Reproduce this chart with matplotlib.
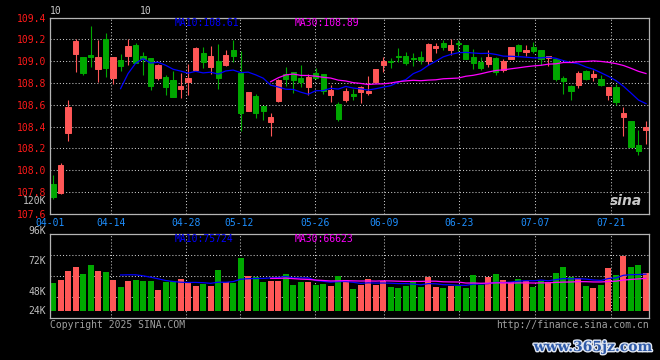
import numpy as np
import pandas as pd
import matplotlib
matplotlib.use("Agg")
import matplotlib.pyplot as plt
import matplotlib.patheffects as pe

# ---------------- data ----------------
opens = [107.877, 107.788, 108.346, 109.069, 109.038, 109.057, 108.932, 109.203, 108.846, 109.008,
         109.051, 109.151, 109.048, 109.029, 108.846, 108.852, 108.825, 108.746, 108.810, 108.920,
         109.078, 108.950, 108.999, 108.962, 109.102, 108.889, 108.545, 108.682, 108.590, 108.447,
         108.636, 108.880, 108.900, 108.849, 108.767, 108.892, 108.886, 108.691, 108.609, 108.645,
         108.700, 108.718, 108.712, 108.810, 108.968, 109.005, 109.048, 109.048, 109.030, 109.038,
         108.999, 109.124, 109.170, 109.100, 109.163, 109.148, 109.038, 108.996, 108.977, 109.026,
         108.916, 109.023, 109.148, 109.081, 109.130, 109.102, 109.026, 109.017, 108.846, 108.770,
         108.785, 108.913, 108.855, 108.834, 108.691, 108.761, 108.490, 108.453, 108.234, 108.374]
highs = [107.956, 108.069, 108.645, 109.203, 109.040, 109.325, 109.194, 109.258, 109.040, 109.069,
         109.200, 109.170, 109.084, 109.030, 108.970, 108.871, 108.913, 108.895, 108.974, 109.130,
         109.127, 109.136, 109.157, 109.100, 109.194, 109.090, 108.720, 108.700, 108.590, 108.526,
         108.840, 108.950, 108.900, 108.965, 108.886, 108.938, 108.886, 108.782, 108.627, 108.752,
         108.746, 108.773, 108.865, 108.930, 109.038, 109.030, 109.120, 109.081, 109.078, 109.093,
         109.170, 109.170, 109.197, 109.200, 109.194, 109.150, 109.112, 109.038, 109.100, 109.038,
         109.017, 109.130, 109.157, 109.148, 109.176, 109.102, 109.048, 109.017, 108.865, 108.785,
         108.907, 108.922, 108.920, 108.874, 108.761, 108.791, 108.581, 108.453, 108.371, 108.450]
lows = [107.733, 107.779, 108.273, 108.904, 108.877, 108.947, 108.810, 108.855, 108.795, 108.913,
        108.962, 108.980, 108.877, 108.740, 108.831, 108.688, 108.670, 108.663, 108.691, 108.920,
        108.938, 108.883, 108.749, 108.960, 108.996, 108.359, 108.540, 108.480, 108.462, 108.319,
        108.627, 108.776, 108.712, 108.767, 108.694, 108.834, 108.703, 108.627, 108.453, 108.630,
        108.645, 108.618, 108.691, 108.810, 108.904, 108.938, 108.996, 108.965, 108.959, 108.974,
        108.965, 109.078, 109.100, 109.054, 109.096, 109.020, 108.929, 108.920, 108.947, 108.877,
        108.904, 109.020, 109.048, 109.050, 109.078, 108.965, 108.956, 108.822, 108.703, 108.648,
        108.758, 108.828, 108.822, 108.776, 108.645, 108.600, 108.319, 108.218, 108.136, 108.237]
closes = [107.758, 108.051, 108.581, 109.185, 108.895, 109.038, 109.038, 108.941, 109.038, 108.959,
          109.139, 108.983, 109.020, 108.776, 108.968, 108.764, 108.673, 108.773, 108.849, 109.124,
          108.996, 109.048, 108.846, 109.060, 109.051, 108.529, 108.718, 108.526, 108.545, 108.484,
          108.831, 108.840, 108.828, 108.810, 108.859, 108.849, 108.730, 108.740, 108.471, 108.727,
          108.682, 108.764, 108.724, 108.929, 109.002, 108.990, 109.040, 108.983, 109.017, 109.011,
          109.157, 109.139, 109.130, 109.148, 109.157, 109.023, 108.983, 108.938, 109.038, 108.904,
          108.999, 109.130, 109.093, 109.102, 109.096, 109.017, 109.048, 108.834, 108.822, 108.730,
          108.889, 108.837, 108.883, 108.785, 108.761, 108.630, 108.526, 108.218, 108.179, 108.401]
volumes = [57456, 63612, 82080, 90288, 75924, 94392, 82080, 80028, 63612, 49248,
           61560, 63612, 61560, 61560, 43092, 59508, 61560, 65664, 57456, 51300,
           55404, 51300, 84132, 59508, 57456, 108756, 71820, 69768, 59508, 61560,
           61560, 75924, 53352, 59508, 59508, 53352, 55404, 51300, 71820, 63612,
           45144, 53352, 65664, 53352, 61560, 49248, 47196, 51300, 61560, 49248,
           69768, 49248, 47196, 51300, 51300, 47196, 73872, 53352, 69768, 75924,
           63612, 59508, 65664, 61560, 49248, 61560, 59508, 77976, 90288, 69768,
           67716, 51300, 47196, 53352, 88236, 73872, 112860, 90288, 94392, 77976]

date_tick_labels = ["04-01", "04-14", "04-28", "05-12", "05-26", "06-09", "06-23", "07-07", "07-21"]
date_tick_index = [0, 8, 18, 25, 35, 44, 54, 64, 74]
price_ticks = [107.6, 107.8, 108.0, 108.2, 108.4, 108.6, 108.8, 109.0, 109.2, 109.4]
vol_tick_labels = ["120K", "96K", "72K", "48K", "24K"]
price_legend = ["MA10:108.61", "MA30:108.89"]
vol_legend = ["MA10:75724", "MA30:66623"]

# ---------------- style ----------------
W, H = 660, 360
BG = "black"
RED = "#ff5757"
GREEN = "#00a800"
BLUE = "#0000ff"
MAG = "#ff00ff"
GRID = "#c8c8c8"
BORDER = "#b4b4b4"
MONO = "DejaVu Sans Mono"
FS = 7

df = pd.DataFrame({"open": opens, "high": highs, "low": lows, "close": closes, "vol": volumes})
n = len(df)
x = np.arange(n)
df["ma10"] = df["close"].rolling(10).mean()
df["ma30"] = df["close"].rolling(30).mean()
df["vma10"] = df["vol"].rolling(10).mean()
df["vma30"] = df["vol"].rolling(30).mean()
up = df["close"] >= df["open"]
colors = np.where(up, RED, GREEN)

fig = plt.figure(figsize=(W / 100, H / 100), dpi=100, facecolor=BG)

def px_axes(left, top, right, bottom):
    return fig.add_axes([left / W, 1 - bottom / H, (right - left) / W, (bottom - top) / H])

ax = px_axes(50, 17.5, 649, 214)
axv = px_axes(50, 234.3, 649, 318)
XL, XR = -0.4, n - 1 + 0.4
grid_x = [XL + i / (n - 1) * (XR - XL) for i in date_tick_index]

for a in (ax, axv):
    a.set_facecolor(BG)
    a.set_xlim(XL, XR)
    for s in a.spines.values():
        s.set_color(BORDER)
        s.set_linewidth(0.9)
    a.tick_params(length=0)
    a.set_axisbelow(True)

# ---------------- price panel ----------------
ax.set_ylim(107.6, 109.4)
ax.set_yticks(price_ticks)
ax.set_yticklabels([f"{v:.1f}" for v in price_ticks], color="#ff1a1a",
                   fontsize=FS, family=MONO)
ax.tick_params(axis="y", pad=2.9)
ax.set_xticks(grid_x)
ax.set_xticklabels(date_tick_labels, color="#1e8fff", fontsize=FS, family=MONO)
ax.tick_params(axis="x", pad=3)
ax.grid(True, color=GRID, linestyle=(0, (1, 2)), linewidth=0.75)

body_h = (df["close"] - df["open"]).abs()
body_b = df[["close", "open"]].min(axis=1)
ax.vlines(x, df["low"], df["high"], colors=colors, linewidth=0.8, zorder=2)
ax.bar(x, body_h, bottom=body_b, width=0.7, color=colors, edgecolor=colors,
       linewidth=0.7, zorder=2)
ax.plot(x, df["ma10"], color=BLUE, lw=0.9, zorder=3)
ax.plot(x, df["ma30"], color=MAG, lw=0.9, zorder=3)

# ---------------- volume panel ----------------
axv.set_ylim(-14364, 157388)
axv.set_yticks([])
axv.set_xticks(grid_x)
axv.set_xticklabels([])
axv.grid(True, axis="x", color=GRID, linestyle=(0, (1, 2)), linewidth=0.75)
for f in (0.25, 0.5, 0.75):
    axv.plot([0, 1], [f, f], transform=axv.transAxes, color=GRID,
             linestyle=(0, (1, 2)), linewidth=0.75, zorder=0.5)
axv.bar(x, df["vol"], width=0.8, color=colors, linewidth=0, zorder=2)
axv.plot(x, df["vma10"], color=BLUE, lw=0.9, zorder=3)
axv.plot(x, df["vma30"], color=MAG, lw=0.9, zorder=3)

vol_label_y = [200.7, 230.7, 260.7, 291.7, 311]
for lab, yy in zip(vol_tick_labels, vol_label_y):
    fig.text(46 / W, 1 - yy / H, lab, color="#c0c0c0", fontsize=FS, family=MONO,
             ha="right", va="center")

# ---------------- texts ----------------
fig.text(175 / W, 1 - 23 / H, price_legend[0], color=BLUE, fontsize=FS, family=MONO, va="center")
fig.text(295 / W, 1 - 23 / H, price_legend[1], color=MAG, fontsize=FS, family=MONO, va="center")
fig.text(175 / W, 1 - 239 / H, vol_legend[0], color=BLUE, fontsize=FS, family=MONO, va="center")
fig.text(295 / W, 1 - 239 / H, vol_legend[1], color=MAG, fontsize=FS, family=MONO, va="center")

fig.text(50 / W, 1 - 11.5 / H, "10", color="#c8c8c8", fontsize=FS, family=MONO, va="center")
fig.text(140 / W, 1 - 11.5 / H, "10", color="#c8c8c8", fontsize=FS, family=MONO, va="center")

fig.text(50 / W, 1 - 324.5 / H, "Copyright 2025 SINA.COM", color="#a0a0a0",
         fontsize=FS, family=MONO, va="center")
fig.text(649 / W, 1 - 324.5 / H, "http://finance.sina.com.cn", color="#a0a0a0",
         fontsize=FS, family=MONO, va="center", ha="right")

fig.text(626 / W, 1 - 201 / H, "sina", color="#c8c8c8", fontsize=10, fontweight="bold",
         style="italic", ha="center", va="center")
fig.text(593 / W, 1 - 347 / H, "www.365jz.com", color="#2f5aa8", fontsize=10,
         fontweight="bold", family="DejaVu Serif", ha="center", va="center",
         path_effects=[pe.withStroke(linewidth=2, foreground="#dfe6f2")])

fig.savefig("out.png", dpi=100, facecolor=BG)
